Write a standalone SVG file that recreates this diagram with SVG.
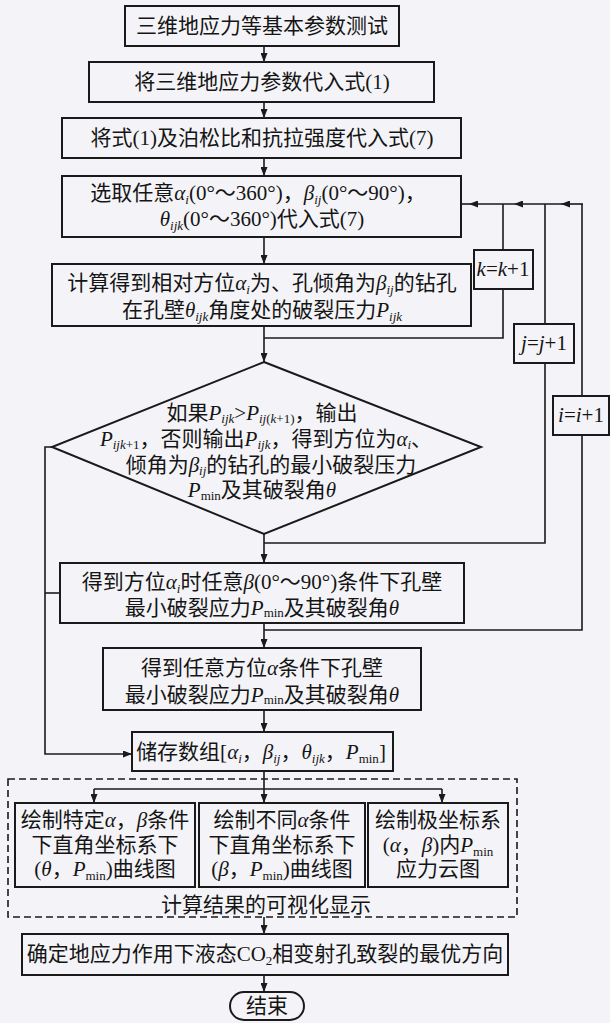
<svg xmlns="http://www.w3.org/2000/svg" width="610" height="1023" viewBox="0 0 610 1023">
<style>
.bg{fill:#f4f4f8}
.box{fill:#f4f4f8;stroke:#1a1a1a;stroke-width:2}
.dash{fill:none;stroke:#1a1a1a;stroke-width:1.6;stroke-dasharray:7,4}
.ln{fill:none;stroke:#1a1a1a;stroke-width:1.6}
.t{font-family:"Liberation Serif","Noto Sans CJK SC",serif;font-size:21px;fill:#151515;text-anchor:middle}
.i{font-style:italic}
.s{font-size:13px}
</style>
<defs>
<marker id="ar" markerUnits="userSpaceOnUse" markerWidth="9" markerHeight="7" refX="9" refY="3.5" orient="auto">
<path d="M0,0 L9,3.5 L0,7 z" fill="#1a1a1a"/>
</marker>
</defs>
<rect class="bg" x="0" y="0" width="610" height="1023"/>

<g id="connectors">
<path class="ln" d="M264,46 V62" marker-end="url(#ar)"/>
<path class="ln" d="M264,102 V118" marker-end="url(#ar)"/>
<path class="ln" d="M264,158 V176" marker-end="url(#ar)"/>
<path class="ln" d="M264,237 V264" marker-end="url(#ar)"/>
<path class="ln" d="M264,326 V362" marker-end="url(#ar)"/>
<path class="ln" d="M264,338 H503 V289"/>
<path class="ln" d="M503,250 V204"/>
<path class="ln" d="M264,534 V563" marker-end="url(#ar)"/>
<path class="ln" d="M264,543 H545 V363"/>
<path class="ln" d="M545,324 V204"/>
<path class="ln" d="M264,623 V648" marker-end="url(#ar)"/>
<path class="ln" d="M264,630 H582 V435"/>
<path class="ln" d="M582,396 V204"/>
<path class="ln" d="M583,204 H561" marker-end="url(#ar)"/>
<path class="ln" d="M561,204 H514" marker-end="url(#ar)"/>
<path class="ln" d="M514,204 H469" marker-end="url(#ar)"/>
<path class="ln" d="M469,204 H461"/>
<path class="ln" d="M52,447 H45 V754 H132" marker-end="url(#ar)"/>
<path class="ln" d="M45,593 H60"/>
<path class="ln" d="M264,710 V732" marker-end="url(#ar)"/>
<path class="ln" d="M264,771 V789"/>
<path class="ln" d="M94,789 H442"/>
<path class="ln" d="M94,789 V803" marker-end="url(#ar)"/>
<path class="ln" d="M264,789 V803" marker-end="url(#ar)"/>
<path class="ln" d="M442,789 V803" marker-end="url(#ar)"/>
<path class="ln" d="M264,917 V934" marker-end="url(#ar)"/>
<path class="ln" d="M264,975 V992" marker-end="url(#ar)"/>
</g>

<g id="n1"><rect class="box" x="125" y="6" width="274" height="40"/>
<text class="t" x="262" y="33">三维地应力等基本参数测试</text></g>

<g id="n2"><rect class="box" x="89" y="62" width="345" height="40"/>
<text class="t" x="262" y="89">将三维地应力参数代入式(1)</text></g>

<g id="n3"><rect class="box" x="62" y="118" width="399" height="40"/>
<text class="t" x="262" y="145">将式(1)及泊松比和抗拉强度代入式(7)</text></g>

<g id="n4"><rect class="box" x="62" y="176" width="399" height="61"/>
<text class="t" x="258" y="200">选取任意<tspan class="i">α</tspan><tspan class="s i" dy="4">i</tspan><tspan dy="-4">(0°～360°)，</tspan><tspan class="i">β</tspan><tspan class="s i" dy="4">ij</tspan><tspan dy="-4">(0°～90°)，</tspan></text>
<text class="t" x="262" y="226"><tspan class="i">θ</tspan><tspan class="s i" dy="4">ijk</tspan><tspan dy="-4">(0°～360°)代入式(7)</tspan></text></g>

<g id="n5"><rect class="box" x="52" y="264" width="419" height="62"/>
<text class="t" x="262" y="290">计算得到相对方位<tspan class="i">α</tspan><tspan class="s i" dy="4">i</tspan><tspan dy="-4">为、孔倾角为</tspan><tspan class="i">β</tspan><tspan class="s i" dy="4">ij</tspan><tspan dy="-4">的钻孔</tspan></text>
<text class="t" x="262" y="317">在孔壁<tspan class="i">θ</tspan><tspan class="s i" dy="4">ijk</tspan><tspan dy="-4">角度处的破裂压力</tspan><tspan class="i">P</tspan><tspan class="s i" dy="4">ijk</tspan></text></g>

<g id="k"><rect class="box" x="474" y="250" width="59" height="39"/>
<text class="t" x="503" y="276"><tspan class="i">k</tspan>=<tspan class="i">k</tspan>+1</text></g>

<g id="j"><rect class="box" x="514" y="324" width="60" height="39"/>
<text class="t" x="544" y="350"><tspan class="i">j</tspan>=<tspan class="i">j</tspan>+1</text></g>

<g id="i"><rect class="box" x="553" y="396" width="56" height="39"/>
<text class="t" x="581" y="422"><tspan class="i">i</tspan>=<tspan class="i">i</tspan>+1</text></g>

<g id="n6"><path class="box" d="M264,362 L481,447 L264,534 L52,447 Z"/>
<text class="t" x="262" y="420">如果<tspan class="i">P</tspan><tspan class="s i" dy="3">ijk</tspan><tspan dy="-3">&gt;</tspan><tspan class="i">P</tspan><tspan class="s" dy="3"><tspan class="i">ij</tspan>(<tspan class="i">k</tspan>+1)</tspan><tspan dy="-3">，输出</tspan></text>
<text class="t" x="266" y="446"><tspan class="i">P</tspan><tspan class="s" dy="3"><tspan class="i">ijk</tspan>+1</tspan><tspan dy="-3">，否则输出</tspan><tspan class="i">P</tspan><tspan class="s i" dy="3">ijk</tspan><tspan dy="-3">，得到方位为</tspan><tspan class="i">α</tspan><tspan class="s i" dy="3">i</tspan><tspan dy="-3">、</tspan></text>
<text class="t" x="271" y="472">倾角为<tspan class="i">β</tspan><tspan class="s i" dy="3">ij</tspan><tspan dy="-3">的钻孔的最小破裂压力</tspan></text>
<text class="t" x="262" y="497"><tspan class="i">P</tspan><tspan class="s" dy="3">min</tspan><tspan dy="-3">及其破裂角</tspan><tspan class="i">θ</tspan></text></g>

<g id="n7"><rect class="box" x="60" y="563" width="404" height="60"/>
<text class="t" x="262" y="589">得到方位<tspan class="i">α</tspan><tspan class="s i" dy="4">i</tspan><tspan dy="-4">时任意</tspan><tspan class="i">β</tspan>(0°～90°)条件下孔壁</text>
<text class="t" x="262" y="615">最小破裂应力<tspan class="i">P</tspan><tspan class="s" dy="2">min</tspan><tspan dy="-2">及其破裂角</tspan><tspan class="i">θ</tspan></text></g>

<g id="n8"><rect class="box" x="103" y="648" width="318" height="62"/>
<text class="t" x="262" y="675">得到任意方位<tspan class="i">α</tspan>条件下孔壁</text>
<text class="t" x="262" y="702">最小破裂应力<tspan class="i">P</tspan><tspan class="s" dy="2">min</tspan><tspan dy="-2">及其破裂角</tspan><tspan class="i">θ</tspan></text></g>

<g id="n9"><rect class="box" x="132" y="732" width="261" height="39"/>
<text class="t" x="261" y="759">储存数组[<tspan class="i">α</tspan><tspan class="s i" dy="4">i</tspan><tspan dy="-4">，</tspan><tspan class="i">β</tspan><tspan class="s i" dy="4">ij</tspan><tspan dy="-4">，</tspan><tspan class="i">θ</tspan><tspan class="s i" dy="4">ijk</tspan><tspan dy="-4">，</tspan><tspan class="i">P</tspan><tspan class="s" dy="4">min</tspan><tspan dy="-4">]</tspan></text></g>

<g id="viz">
<rect class="dash" x="8" y="779" width="509" height="138"/>
<text class="t" x="266" y="912">计算结果的可视化显示</text>
</g>

<g id="n10"><rect class="box" x="15" y="803" width="180" height="84"/>
<text class="t" x="105" y="827">绘制特定<tspan class="i">α</tspan>，<tspan class="i">β</tspan>条件</text>
<text class="t" x="105" y="852">下直角坐标系下</text>
<text class="t" x="105" y="876">(<tspan class="i">θ</tspan>，<tspan class="i">P</tspan><tspan class="s" dy="4">min</tspan><tspan dy="-4">)曲线图</tspan></text></g>

<g id="n11"><rect class="box" x="199" y="803" width="166" height="84"/>
<text class="t" x="282" y="827">绘制不同<tspan class="i">α</tspan>条件</text>
<text class="t" x="282" y="852">下直角坐标系下</text>
<text class="t" x="282" y="876">(<tspan class="i">β</tspan>，<tspan class="i">P</tspan><tspan class="s" dy="4">min</tspan><tspan dy="-4">)曲线图</tspan></text></g>

<g id="n12"><rect class="box" x="368" y="803" width="140" height="84"/>
<text class="t" x="438" y="827">绘制极坐标系</text>
<text class="t" x="438" y="852">(<tspan class="i">α</tspan>，<tspan class="i">β</tspan>)内<tspan class="i">P</tspan><tspan class="s" dy="4">min</tspan></text>
<text class="t" x="438" y="876">应力云图</text></g>

<g id="n13"><rect class="box" x="22" y="934" width="486" height="41"/>
<text class="t" x="265" y="961">确定地应力作用下液态CO<tspan class="s" dy="4">2</tspan><tspan dy="-4">相变射孔致裂的最优方向</tspan></text></g>

<g id="end"><rect class="box" x="230" y="992" width="74" height="28" rx="14" ry="14"/>
<text class="t" x="267" y="1013">结束</text></g>
</svg>
